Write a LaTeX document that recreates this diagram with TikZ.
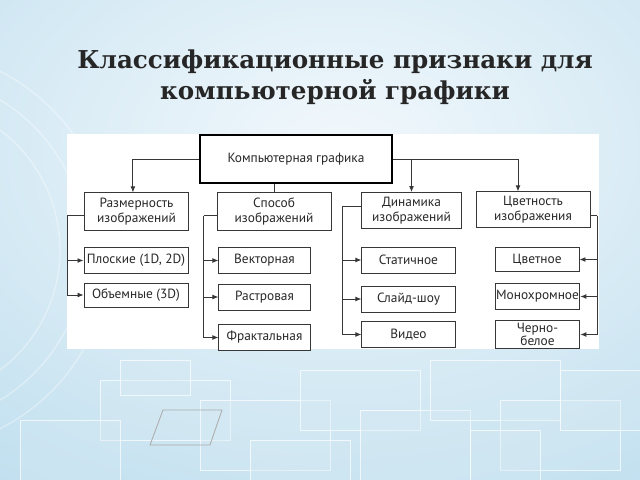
\documentclass[tikz,border=0pt]{standalone}
\usepackage{fontspec}
\setmainfont{PT Sans}
\newfontfamily\titlefont{DejaVu Serif}
\usetikzlibrary{arrows.meta,positioning}

\definecolor{mbg}{RGB}{186,220,237}
\definecolor{mbgl}{RGB}{242,248,252}
\definecolor{mline}{RGB}{55,55,55}
\definecolor{mtext}{RGB}{40,40,40}

\tikzset{
  box/.style={draw=mline, line width=0.6pt, fill=white, text=mtext,
    font=\fontsize{9.5}{10.5}\selectfont, align=center, inner sep=1pt},
  topbox/.style={box, draw=black, line width=1.3pt},
  arr/.style={mline, line width=0.6pt, -{Latex[length=1.5mm,width=1.2mm]}},
  conn/.style={mline, line width=0.6pt},
}

\begin{document}
\begin{tikzpicture}[x=0.025cm,y=-0.025cm]
  \useasboundingbox (0,0) rectangle (640,480);
  \clip (0,0) rectangle (640,480);

  % --- background ---
  \shade[inner color=mbgl, outer color=mbg] (-340,-310) rectangle (1020,610);
  \foreach \a/\b/\c/\d in {100/380/230/440, 200/400/330/470, 300/370/420/430,
      360/410/470/480, 430/360/560/420, 500/400/620/470, 20/420/120/480,
      250/440/350/480, 560/370/640/430, 120/360/190/395, 470/430/540/480} {
      \fill[mbg!60!white, opacity=.35] (\a,\b) rectangle (\c,\d);
      \draw[white, opacity=.7, line width=0.6pt] (\a,\b) rectangle (\c,\d);
    }
  \foreach \r in {150,175,200} {
      \draw[white, opacity=.35, line width=1pt] (-90,250) circle (\r);
    }
  \draw[gray!65, line width=0.6pt] (150,445) -- (163,410) -- (222,410) -- (210,445) -- cycle;

  % --- white panel ---
  \fill[white] (67,134) rectangle (599,349);

  % --- title ---
  \node[font=\titlefont\bfseries\fontsize{17.5}{22}\selectfont, text=black!85,
    align=center] (title) at (335,77) {Классификационные признаки для\\компьютерной графики};

  % --- boxes ---
  \node[topbox, minimum width=4.8cm, minimum height=1.2cm] (cg) at (296,159) {Компьютерная графика};

  \node[box, minimum width=2.58cm, minimum height=0.93cm] (razm) at (136.5,211.5) {Размерность\\изображений};
  \node[box, minimum width=2.85cm, minimum height=0.93cm] (sposob) at (274,211.5) {Способ\\изображений};
  \node[box, minimum width=2.48cm, minimum height=0.9cm] (dinam) at (411.5,210.5) {Динамика\\изображений};
  \node[box, minimum width=2.85cm, minimum height=0.88cm] (tsvet) at (533,209.5) {Цветность\\изображения};

  \node[box, minimum width=2.6cm, minimum height=0.63cm] (ploskie) at (136,260.5) {Плоские (1D, 2D)};
  \node[box, minimum width=2.6cm, minimum height=0.6cm] (obem) at (136,295) {Объемные (3D)};

  \node[box, minimum width=2.28cm, minimum height=0.63cm] (vektor) at (264.5,260.5) {Векторная};
  \node[box, minimum width=2.28cm, minimum height=0.65cm] (rastr) at (264.5,297) {Растровая};
  \node[box, minimum width=2.28cm, minimum height=0.63cm] (frakt) at (264.5,337.5) {Фрактальная};

  \node[box, minimum width=2.33cm, minimum height=0.65cm] (statich) at (408.5,260) {Статичное};
  \node[box, minimum width=2.33cm, minimum height=0.65cm] (slaid) at (408.5,299) {Слайд-шоу};
  \node[box, minimum width=2.33cm, minimum height=0.63cm] (video) at (408.5,334.5) {Видео};

  \node[box, minimum width=2.1cm, minimum height=0.58cm] (tsvetnoe) at (537,259.5) {Цветное};
  \node[box, minimum width=2.12cm, minimum height=0.63cm, inner sep=0.5pt] (monohr) at (537.5,296.5) {Монохромное};
  \node[box, minimum width=2.12cm, minimum height=0.68cm, font=\fontsize{9.5}{9.5}\selectfont] (chb) at (537.5,334.5) {Черно-\\белое};

  % --- top level links ---
  \draw[arr] (cg.west) -| ([xshift=-0.09cm]razm.north);
  \draw[conn] (cg.south -| sposob.north) -- (sposob.north);
  \draw[arr] (cg.east) -| ([xshift=-0.375cm]tsvet.north);
  \draw[arr] (cg.east -| dinam.north) -- (dinam.north);

  % --- side links ---
  \coordinate (razmL) at ([xshift=-0.425cm,yshift=-0.09cm]razm.west);
  \draw[conn] ([yshift=-0.09cm]razm.west) -- (razmL);
  \foreach \n in {ploskie,obem} {
      \draw[arr] (razmL) |- (\n.west);
    }

  \coordinate (sposobL) at ([xshift=-0.325cm,yshift=-0.11cm]sposob.west);
  \draw[conn] ([yshift=-0.11cm]sposob.west) -- (sposobL);
  \foreach \n in {vektor,rastr,frakt} {
      \draw[arr] (sposobL) |- (\n.west);
    }

  \coordinate (dinamL) at ([xshift=-0.475cm,yshift=0.11cm]dinam.west);
  \draw[conn] ([yshift=0.11cm]dinam.west) -- (dinamL);
  \foreach \n in {statich,slaid,video} {
      \draw[arr] (dinamL) |- (\n.west);
    }

  \coordinate (tsvetR) at ([xshift=0.175cm,yshift=-0.16cm]tsvet.east);
  \draw[conn] ([yshift=-0.16cm]tsvet.east) -- (tsvetR);
  \foreach \n in {tsvetnoe,monohr,chb} {
      \draw[arr] (tsvetR) |- (\n.east);
    }
\end{tikzpicture}
\end{document}
